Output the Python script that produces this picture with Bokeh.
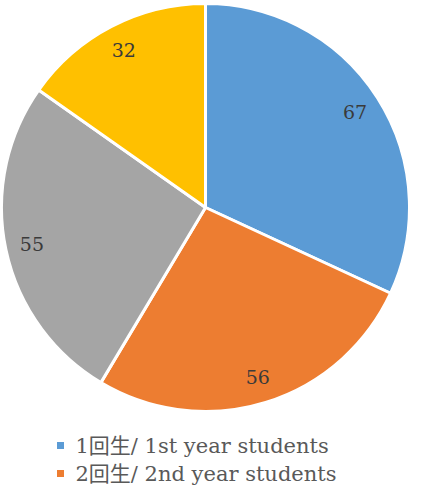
import numpy as np
from bokeh.plotting import figure
from bokeh.models import ColumnDataSource, Range1d
from bokeh.core.properties import value
from bokeh.embed import file_html
from bokeh.resources import INLINE

categories = ["1回生/ 1st year students", "2回生/ 2nd year students",
              "3回生/ 3rd year students", "4回生/ 4th year students"]
counts = [67, 56, 55, 32]
colors = ["#5B9BD5", "#ED7D31", "#A5A5A5", "#FFC000"]
legend_shown = 2

W, H = 409, 488
cx, cy, R = 205, H - 207, 204

vals = np.array(counts, dtype=float)
frac = vals / vals.sum() * 2 * np.pi
cum = np.cumsum(frac)
prev = cum - frac
start = np.pi / 2 - cum
end = np.pi / 2 - prev
mid = np.pi / 2 - (prev + cum) / 2
lr = 0.87 * R

src = ColumnDataSource(dict(
    start=start, end=end, color=colors,
    lx=cx + lr * np.cos(mid), ly=cy + lr * np.sin(mid),
    lab=[str(c) for c in counts],
))

p = figure(width=W, height=H, output_backend="svg", toolbar_location=None,
           x_range=Range1d(0, W), y_range=Range1d(0, H),
           min_border=0, outline_line_color=None)
p.axis.visible = False
p.grid.visible = False

p.wedge(x=cx, y=cy, radius=R, start_angle="start", end_angle="end",
        direction="anticlock", fill_color="color", line_color="white",
        line_width=3, source=src)
p.text(x="lx", y="ly", text="lab", source=src, text_align="center",
       text_baseline="middle", text_font_size="19px", text_color="#3a3a3a",
       text_font=value("DejaVu Serif"))

ly0 = H - 445
leg = ColumnDataSource(dict(
    x=[60] * legend_shown,
    y=[ly0 - 28 * i for i in range(legend_shown)],
    tx=[75] * legend_shown,
    color=colors[:legend_shown],
    text=categories[:legend_shown],
))
p.scatter(x="x", y="y", source=leg, marker="square", size=7,
          fill_color="color", line_color=None)
p.text(x="tx", y="y", text="text", source=leg, text_baseline="middle",
       text_font_size="21px", text_color="#595959",
       text_font=value("DejaVu Serif, Noto Sans CJK JP"))

open("out.html", "w").write(file_html(p, INLINE))
